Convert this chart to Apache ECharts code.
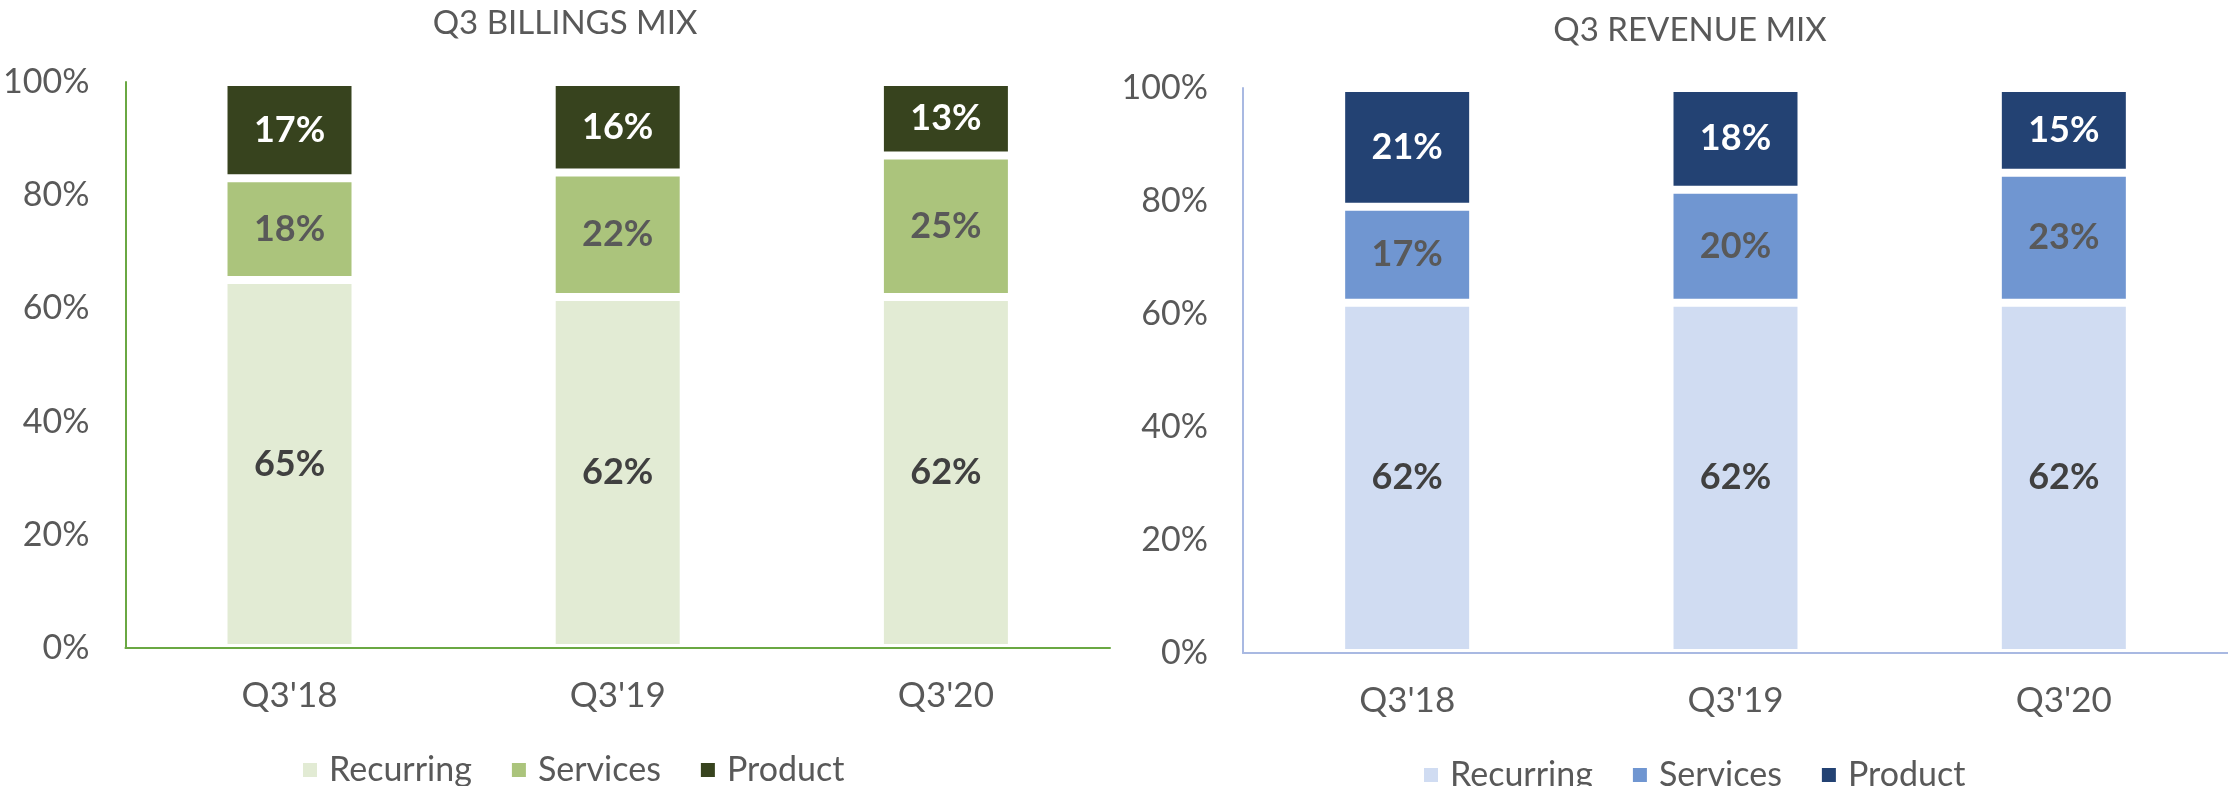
<!DOCTYPE html>
<html>
<head>
<meta charset="utf-8">
<title>Q3 Billings / Revenue Mix</title>
<script src="https://cdn.jsdelivr.net/npm/echarts@6/dist/echarts.min.js"></script>
<style>
html, body { margin: 0; padding: 0; background: #fff; }
.wrap { display: flex; width: 2228px; height: 786px; }
#billingsChart { width: 1117px; height: 786px; }
#revenueChart { width: 1111px; height: 786px; }
</style>
</head>
<body>
<div class="wrap">
  <div id="billingsChart"></div>
  <div id="revenueChart"></div>
</div>
<script>
// data
const categories = ["Q3'18", "Q3'19", "Q3'20"]
const seriesNames = ['Recurring', 'Services', 'Product']
const billingsRecurring = [65, 62, 62]
const billingsServices = [18, 22, 25]
const billingsProduct = [17, 16, 13]
const revenueRecurring = [62, 62, 62]
const revenueServices = [17, 20, 23]
const revenueProduct = [21, 18, 15]
const yMin = 0
const yMax = 100
const yStep = 20

const FONT = 'Lato, "Open Sans", sans-serif'
const labelColors = ['#404040', '#595959', '#ffffff']

function buildOption(cfg) {
  const values = [cfg.recurring, cfg.services, cfg.product]
  return {
    animation: false,
    textStyle: { fontFamily: FONT },
    title: {
      text: cfg.title,
      left: cfg.titleX,
      top: cfg.titleTop,
      textAlign: 'center',
      textStyle: { fontFamily: FONT, fontSize: 33, fontWeight: 'normal', color: '#595959' }
    },
    legend: {
      left: cfg.legendLeft,
      top: cfg.legendTop,
      icon: 'rect',
      itemWidth: 16,
      itemHeight: 16,
      itemGap: 38,
      textStyle: { fontFamily: FONT, fontSize: 34, color: '#595959', padding: [0, 0, 0, 6] },
      data: seriesNames.map((n, i) => ({ name: n, itemStyle: { color: cfg.colors[i] } }))
    },
    grid: {
      left: cfg.grid.left,
      right: cfg.grid.right,
      top: cfg.grid.top,
      bottom: cfg.grid.bottom,
      containLabel: false
    },
    xAxis: {
      type: 'category',
      data: categories,
      z: 5,
      axisLine: { show: true, lineStyle: { color: cfg.axisColor, width: 2 } },
      axisTick: { show: false },
      axisLabel: { margin: 30, fontFamily: FONT, fontSize: 35, color: '#595959' }
    },
    yAxis: {
      type: 'value',
      min: yMin,
      max: yMax,
      interval: yStep,
      z: 5,
      axisLine: { show: true, lineStyle: { color: cfg.axisColor, width: 2 } },
      axisTick: { show: false },
      splitLine: { show: false },
      axisLabel: { margin: cfg.yLabelMargin, fontFamily: FONT, fontSize: 34, color: '#595959', formatter: '{value}%' }
    },
    series: seriesNames.map((n, i) => ({
      name: n,
      type: 'bar',
      stack: 'mix',
      barWidth: 132,
      data: values[i],
      itemStyle: { color: cfg.colors[i], borderColor: '#ffffff', borderWidth: 4 },
      label: {
        show: true,
        position: 'inside',
        formatter: '{c}%',
        fontFamily: FONT,
        fontSize: 36,
        fontWeight: 'bold',
        color: labelColors[i]
      }
    }))
  }
}

const billingsChart = echarts.init(document.getElementById('billingsChart'))
billingsChart.setOption(buildOption({
  title: 'Q3 BILLINGS MIX',
  titleX: 560,
  titleTop: 2,
  legendLeft: 296,
  legendTop: 748,
  grid: { left: 123, right: 7, top: 82, bottom: 138 },
  yLabelMargin: 36,
  axisColor: '#6AA843',
  colors: ['#E2EBD4', '#ABC47C', '#37431E'],
  recurring: billingsRecurring,
  services: billingsServices,
  product: billingsProduct
}))

const revenueChart = echarts.init(document.getElementById('revenueChart'))
revenueChart.setOption(buildOption({
  title: 'Q3 REVENUE MIX',
  titleX: 568,
  titleTop: 9,
  legendLeft: 300,
  legendTop: 753,
  grid: { left: 126, right: 0, top: 88, bottom: 133 },
  yLabelMargin: 35,
  axisColor: '#A9B9E2',
  colors: ['#D0DCF2', '#7096D1', '#234273'],
  recurring: revenueRecurring,
  services: revenueServices,
  product: revenueProduct
}))
</script>
</body>
</html>
